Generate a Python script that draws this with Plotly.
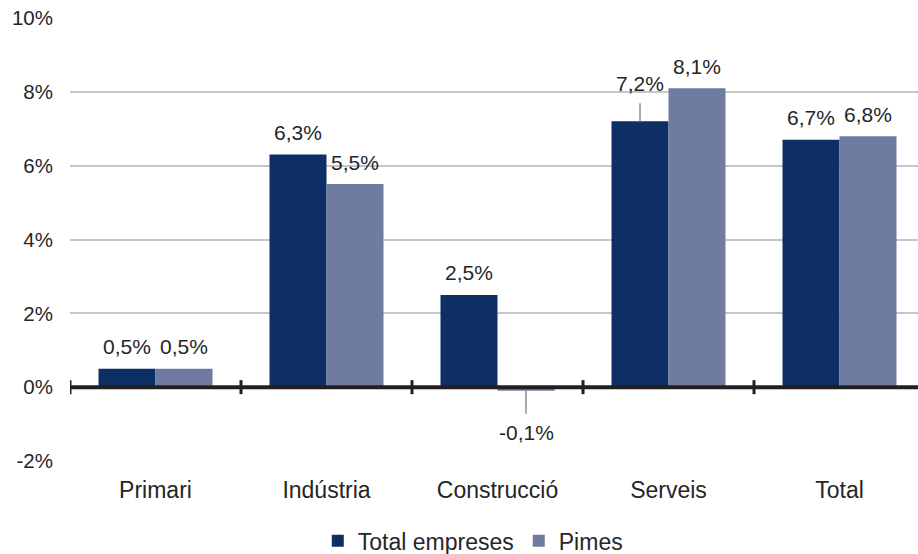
import plotly.graph_objects as go

categories = ["Primari", "Indústria", "Construcció", "Serveis", "Total"]
total_empreses = [0.5, 6.3, 2.5, 7.2, 6.7]
pimes = [0.5, 5.5, -0.1, 8.1, 6.8]
y_ticks = [-2, 0, 2, 4, 6, 8, 10]
y_tick_labels = ["-2%", "0%", "2%", "4%", "6%", "8%", "10%"]

DARK = "#0e2f63"
LIGHT = "#6f7ba1"
TXT = "#262626"
FONT = "Liberation Sans, Arial, sans-serif"

def fmt(v):
    return f"{v:.1f}".replace(".", ",") + "%"

fig = go.Figure()
fig.add_trace(go.Bar(name="Total empreses", x=categories, y=total_empreses,
                     marker=dict(color=DARK, line=dict(width=0))))
fig.add_trace(go.Bar(name="Pimes", x=categories, y=pimes,
                     marker=dict(color=LIGHT, line=dict(width=0))))

annotations = []
off = 1 / 6
for i, (a, b) in enumerate(zip(total_empreses, pimes)):
    for val, dx in ((a, -off), (b, off)):
        base = dict(x=i + dx, y=val, xref="x", yref="y", text=fmt(val),
                    font=dict(size=21, color=TXT, family=FONT))
        if val < 0:
            annotations.append(dict(**base, showarrow=True, arrowhead=0, arrowwidth=1.5,
                                    arrowcolor="#8c8c8c", ax=0, ay=42, startstandoff=6))
        elif categories[i] == "Serveis" and dx < 0:
            annotations.append(dict(**base, showarrow=True, arrowhead=0, arrowwidth=1.5,
                                    arrowcolor="#8c8c8c", ax=0, ay=-38, startstandoff=7))
        else:
            annotations.append(dict(**base, showarrow=False, yanchor="middle", yshift=22))

shapes = []
for k in range(len(categories) + 1):
    shapes.append(dict(type="line", xref="x", yref="y", x0=k - 0.5, x1=k - 0.5,
                       y0=-0.19, y1=0.19, line=dict(color="#231f20", width=3)))
shapes.append(dict(type="line", xref="x", yref="y", x0=-0.5, x1=len(categories) - 0.5,
                   y0=0, y1=0, line=dict(color="#231f20", width=4)))

fig.update_layout(
    width=918, height=554,
    margin=dict(l=70, r=0, t=18, b=93),
    plot_bgcolor="white", paper_bgcolor="white",
    barmode="group", bargap=1 / 3, bargroupgap=0,
    font=dict(family=FONT, color=TXT),
    annotations=annotations,
    shapes=shapes,
    legend=dict(orientation="h", x=0.475, xanchor="center", yref="container",
                y=0.024, yanchor="middle", font=dict(size=23, color=TXT),
                itemwidth=30, tracegroupgap=0),
    showlegend=True,
)
fig.update_xaxes(range=[-0.5, 4.459], showgrid=False, showline=False, ticks="",
                 tickfont=dict(size=23, color=TXT), ticklabelstandoff=13)
fig.update_yaxes(range=[-2, 10], tickvals=y_ticks, ticktext=y_tick_labels,
                 showgrid=True, gridcolor="#c6c6c6", gridwidth=1.5,
                 zeroline=False, showline=False, ticks="",
                 tickfont=dict(size=20.5, color=TXT), ticklabelstandoff=16)

fig.write_html("out.html", config={"displayModeBar": False},
               post_script="document.body.style.margin='0';document.body.style.padding='0';")
